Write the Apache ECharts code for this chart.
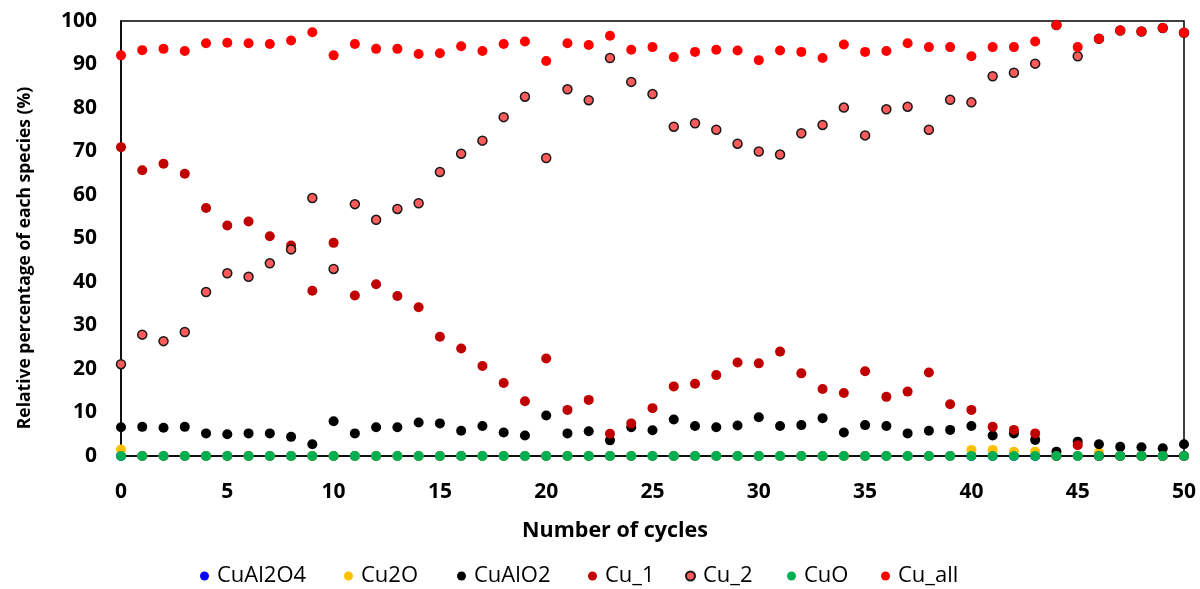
<!DOCTYPE html>
<html><head><meta charset="utf-8">
<script src="https://cdn.jsdelivr.net/npm/echarts@6/dist/echarts.min.js"></script>
<style>html,body{margin:0;padding:0;background:#fff}#c{width:1200px;height:589px}</style>
</head><body><div id="c"></div>
<script>
const cycles = Array.from({length:51},(_, i)=>i);
const cuAl2O4 = new Array(51).fill(0);
const cu2O = [1.5,0,0,0,0,0,0,0,0,0, 0,0,0,0,0,0,0,0,0,0, 0,0,0,0,0,0,0,0,0,0, 0,0,0,0,0,0,0,0,0,0, 1.4,1.4,1.0,1.0,0,0,0.8,0,0,0, 0];
const cuAlO2 = [6.6,6.7,6.5,6.7,5.2,5.0,5.2,5.2,4.4,2.7, 8.0,5.2,6.6,6.6,7.7,7.5,5.8,6.9,5.4,4.7, 9.3,5.2,5.7,3.6,6.6,5.9,8.4,6.9,6.6,7.0, 8.9,6.9,7.1,8.7,5.4,7.1,6.9,5.2,5.8,6.0, 6.9,4.7,5.2,3.7,1.0,3.3,2.7,2.1,2.0,1.8, 2.7];
const cu1 = [71.0,65.7,67.2,64.9,57.0,53.0,53.9,50.5,48.4,38.0, 49.0,36.9,39.5,36.8,34.2,27.4,24.7,20.7,16.8,12.6, 22.4,10.6,12.9,5.1,7.5,11.0,16.0,16.6,18.6,21.5, 21.3,24.0,19.0,15.4,14.5,19.5,13.6,14.8,19.2,11.9, 10.6,6.7,6.0,5.2,0,2.5,0,0,0,0, 0];
const cu2 = [21.1,27.9,26.4,28.5,37.7,42.0,41.2,44.3,47.5,59.3, 43.0,57.9,54.3,56.8,58.1,65.3,69.5,72.5,77.9,82.6, 68.5,84.3,81.8,91.5,86.0,83.2,75.7,76.5,75.0,71.8, 70.0,69.3,74.2,76.1,80.1,73.7,79.7,80.3,75.0,81.9, 81.3,87.3,88.1,90.2,99.1,91.9,95.9,97.8,97.6,98.4, 97.3];
const cuO = new Array(51).fill(0);
const cuAll = [92.1,93.3,93.6,93.1,94.9,95.0,94.9,94.7,95.5,97.4, 92.1,94.7,93.6,93.6,92.4,92.6,94.2,93.1,94.7,95.3, 90.8,94.9,94.5,96.6,93.4,94.0,91.7,92.9,93.4,93.2, 91.0,93.2,92.9,91.5,94.6,92.9,93.1,94.9,94.0,94.0, 91.9,94.0,94.0,95.3,99.1,94.0,95.9,97.8,97.6,98.4, 97.3];
const seriesNames = ['CuAl2O4','Cu2O','CuAlO2','Cu_1','Cu_2','CuO','Cu_all'];
const xTitle = 'Number of cycles';
const yTitle = 'Relative percentage of each species (%)';

const pair = arr => cycles.map((c,i)=>[c,arr[i]]);
const F = "'Open Sans', 'Noto Sans', sans-serif";
function ser(name, arr, color, size, extra){
  return {name, type:'scatter', data:pair(arr), symbol:'circle', symbolSize:size,
    itemStyle:Object.assign({color, opacity:1}, extra||{}), emphasis:{disabled:true}};
}
const legendLefts = [200, 344, 457, 588, 685, 787, 881];
const legends = seriesNames.map((n,i)=>({
  left: legendLefts[i], top: 565, itemWidth:9, itemHeight:9, itemGap:0, padding:0,
  icon:'circle', selectedMode:false,
  textStyle:{fontSize:22, color:'#000', fontFamily:F, padding:[0,0,0,3]},
  data:[n]
}));
const chart = echarts.init(document.getElementById('c'), null, {renderer:'canvas'});
chart.setOption({
  animation:false,
  textStyle:{fontFamily:F},
  grid:{left:121, right:16, top:21, bottom:133, show:true, borderColor:'#000', borderWidth:1.5, backgroundColor:'transparent'},
  xAxis:{type:'value', min:0, max:50, interval:5,
    axisLine:{show:true, onZero:false, lineStyle:{color:'#000', width:1.5}}, axisTick:{show:false},
    splitLine:{show:false},
    axisLabel:{fontSize:21, fontWeight:'bold', color:'#000', margin:26, fontFamily:F}},
  yAxis:{type:'value', min:0, max:100, interval:10,
    axisLine:{show:true, lineStyle:{color:'#000', width:1.5}}, axisTick:{show:false},
    splitLine:{show:false},
    axisLabel:{fontSize:21, fontWeight:'bold', color:'#000', margin:24, fontFamily:F}},
  graphic:[
    {type:'text', x:615, y:531, style:{text:xTitle, font:"bold 21.5px 'Open Sans'", fill:'#000', align:'center', verticalAlign:'middle'}},
    {type:'text', x:25, y:258, rotation:Math.PI/2, style:{text:yTitle, font:"bold 17.5px 'Open Sans'", fill:'#000', align:'center', verticalAlign:'middle'}}
  ],
  legend: legends,
  series:[
    ser('CuAl2O4', cuAl2O4, '#0000FF', 10),
    ser('Cu2O', cu2O, '#FFC000', 10),
    ser('CuAlO2', cuAlO2, '#000000', 10),
    ser('Cu_1', cu1, '#C00000', 10),
    ser('Cu_2', cu2, '#FF5B5B', 9, {borderColor:'#1a1a1a', borderWidth:1.5}),
    ser('CuO', cuO, '#00B050', 10),
    ser('Cu_all', cuAll, '#FF0000', 10)
  ]
});
</script></body></html>
